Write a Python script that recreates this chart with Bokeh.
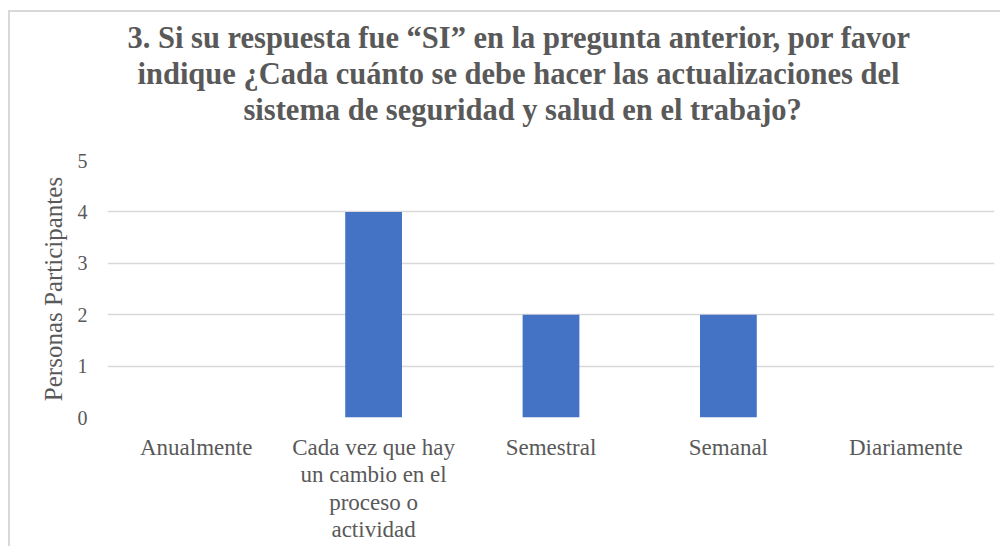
from bokeh.plotting import figure
from bokeh.models import FactorRange, Range1d, FixedTicker, Title
from bokeh.embed import file_html
from bokeh.resources import INLINE

categories = ["Anualmente",
              "Cada vez que hay\nun cambio en el\nproceso o\nactividad",
              "Semestral", "Semanal", "Diariamente"]
values = [0, 4, 2, 2, 0]
y_ticks = [0, 1, 2, 3, 4, 5]
title_lines = ["3. Si su respuesta fue \u201cSI\u201d en la pregunta anterior, por favor",
               "indique \u00bfCada cu\u00e1nto se debe hacer las actualizaciones del",
               "sistema de seguridad y salud en el trabajo?"]
y_label = "Personas Participantes"

FONT = "Liberation Serif"
GREY = "#595959"

p = figure(width=1000, height=546, x_range=FactorRange(factors=categories),
           y_range=Range1d(0, 5), output_backend="svg", toolbar_location=None,
           min_border_left=107, min_border_right=6, min_border_top=160,
           min_border_bottom=129)
p.title = None
p.outline_line_color = None
p.background_fill_color = "white"
p.border_fill_color = None
p.styles = {"background": "linear-gradient(#d9d9d9,#d9d9d9) 8px 10px / calc(100% - 8px) 2px no-repeat, "
                          "linear-gradient(#d9d9d9,#d9d9d9) 8px 10px / 2px calc(100% - 10px) no-repeat, white"}

p.vbar(x=categories, top=values, width=0.32, fill_color="#4472C4",
       line_color=None)

spacer = Title(text=" ", text_font=FONT, text_font_size="29px", standoff=0)
p.add_layout(spacer, "above")
offsets = [20, 30, 136]
for txt, off in reversed(list(zip(title_lines, offsets))):
    t = Title(text=txt, align="left", offset=off, text_font=FONT,
              text_font_size="30.5px", text_font_style="bold", text_color=GREY,
              text_line_height=1.0, standoff=0)
    p.add_layout(t, "above")

p.xgrid.visible = False
p.ygrid.grid_line_color = "#d9d9d9"
p.ygrid.grid_line_width = 1.5
p.ygrid.ticker = FixedTicker(ticks=y_ticks)

p.yaxis.ticker = FixedTicker(ticks=y_ticks)
p.yaxis.axis_line_color = None
p.yaxis.major_tick_line_color = None
p.yaxis.minor_tick_line_color = None
p.yaxis.major_label_standoff = 14
p.yaxis.major_label_text_font = FONT
p.yaxis.major_label_text_font_size = "20px"
p.yaxis.major_label_text_color = GREY
p.yaxis.axis_label = y_label
p.yaxis.axis_label_text_font = FONT
p.yaxis.axis_label_text_font_size = "25px"
p.yaxis.axis_label_text_font_style = "normal"
p.yaxis.axis_label_text_color = GREY
p.yaxis.axis_label_standoff = 8

p.xaxis.axis_line_color = None
p.xaxis.major_tick_line_color = None
p.xaxis.minor_tick_line_color = None
p.xaxis.major_label_standoff = 11
p.xaxis.major_label_text_font = FONT
p.xaxis.major_label_text_font_size = "23px"
p.xaxis.major_label_text_color = GREY
p.xaxis.major_label_text_line_height = 1.1

open("out.html", "w").write(file_html(p, INLINE))
